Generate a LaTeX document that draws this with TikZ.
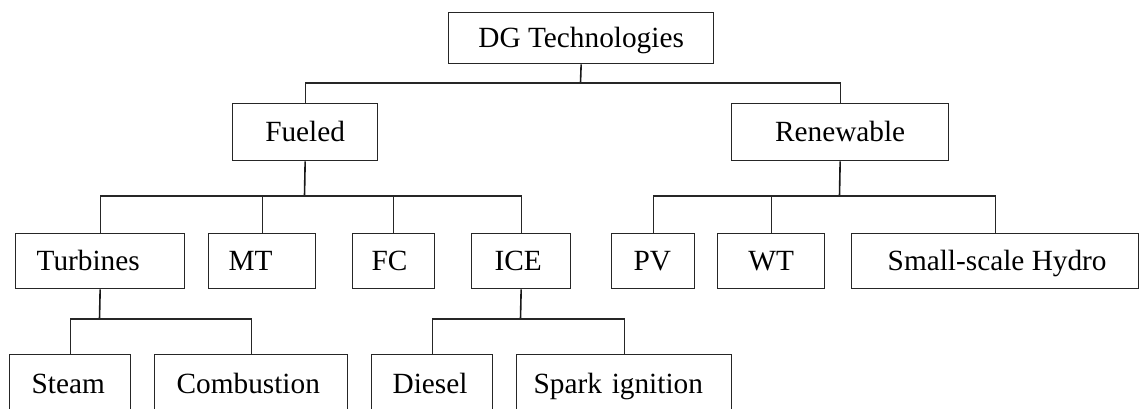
\documentclass[tikz,border=0pt]{standalone}
\usepackage{fontspec}
\setmainfont{Liberation Serif}
\begin{document}
\begin{tikzpicture}[x=1pt,y=-1pt,
  bx/.style={draw=black!85, line width=1.3pt, anchor=north west, inner ysep=0pt,
    text height=19.4pt, text depth=0pt, font=\fontsize{29.3}{34}\selectfont},
  cbx/.style={bx, inner xsep=0pt, align=center},
  lbx/.style={bx, align=left},
  conn/.style={draw=black!85, line width=1.1pt},
  stem/.style={draw=black!90, line width=1.6pt}]
\useasboundingbox (0,0) rectangle (1141,408);
% level 0
\node[cbx, minimum width=265pt, minimum height=51pt] (dg) at (448,12) {DG Technologies};
% level 1
\node[cbx, minimum width=145pt, minimum height=57pt] (fu) at (232,103) {Fueled};
\node[cbx, minimum width=217pt, minimum height=57pt] (re) at (731,103) {Renewable};
% level 2
\node[lbx, inner xsep=21pt, text width=127pt, minimum height=55pt] (tu) at (15,233) {Turbines};
\node[lbx, inner xsep=20pt, text width=67pt, minimum height=55pt] (mt) at (208,233) {MT};
\node[lbx, inner xsep=19pt, text width=44pt, minimum height=55pt] (fc) at (352,233) {FC};
\node[lbx, inner xsep=23pt, text width=53pt, minimum height=55pt] (ice) at (471,233) {ICE};
\node[lbx, inner xsep=22pt, text width=39pt, minimum height=55pt] (pv) at (611,233) {PV};
\node[cbx, minimum width=107pt, minimum height=55pt] (wt) at (717,233) {WT};
\node[cbx, minimum width=287pt, minimum height=55pt] (hy) at (851,233) {\hspace*{4pt}Small-scale Hydro};
% level 3
\node[lbx, inner xsep=22pt, text width=77pt, minimum height=58pt] (st) at (9,354) {Steam};
\node[lbx, inner xsep=22pt, text width=149pt, minimum height=58pt] (co) at (154,354) {Combustion};
\node[lbx, inner xsep=21pt, text width=79pt, minimum height=58pt] (di) at (371,354) {Diesel};
\node[lbx, inner xsep=17pt, text width=181pt, minimum height=58pt] (sp) at (516,354) {Spark ignition};
% junctions
\coordinate (j0) at (580.5,83);
\coordinate (j1) at (304.5,196);
\coordinate (j2) at (839.5,196);
\coordinate (j3) at (99.5,319);
\coordinate (j4) at (520.5,319);
% connectors
\draw[stem] (dg.south) -- (j0);
\draw[conn] (fu.north) |- (j0) -| (re.north);
\draw[stem] (fu.south) -- (j1);
\draw[conn] (tu.north) |- (j1) -| (ice.north);
\draw[conn] (mt.north) -- (mt.north |- j1);
\draw[conn] (fc.north) -- (fc.north |- j1);
\draw[stem] (re.south) -- (j2);
\draw[conn] (pv.north) |- (j2) -| (hy.north);
\draw[conn] (wt.north) -- (wt.north |- j2);
\draw[stem] (tu.south) -- (j3);
\draw[conn] (st.north) |- (j3) -| (co.north);
\draw[stem] (ice.south) -- (j4);
\draw[conn] (di.north) |- (j4) -| (sp.north);
\end{tikzpicture}
\end{document}
